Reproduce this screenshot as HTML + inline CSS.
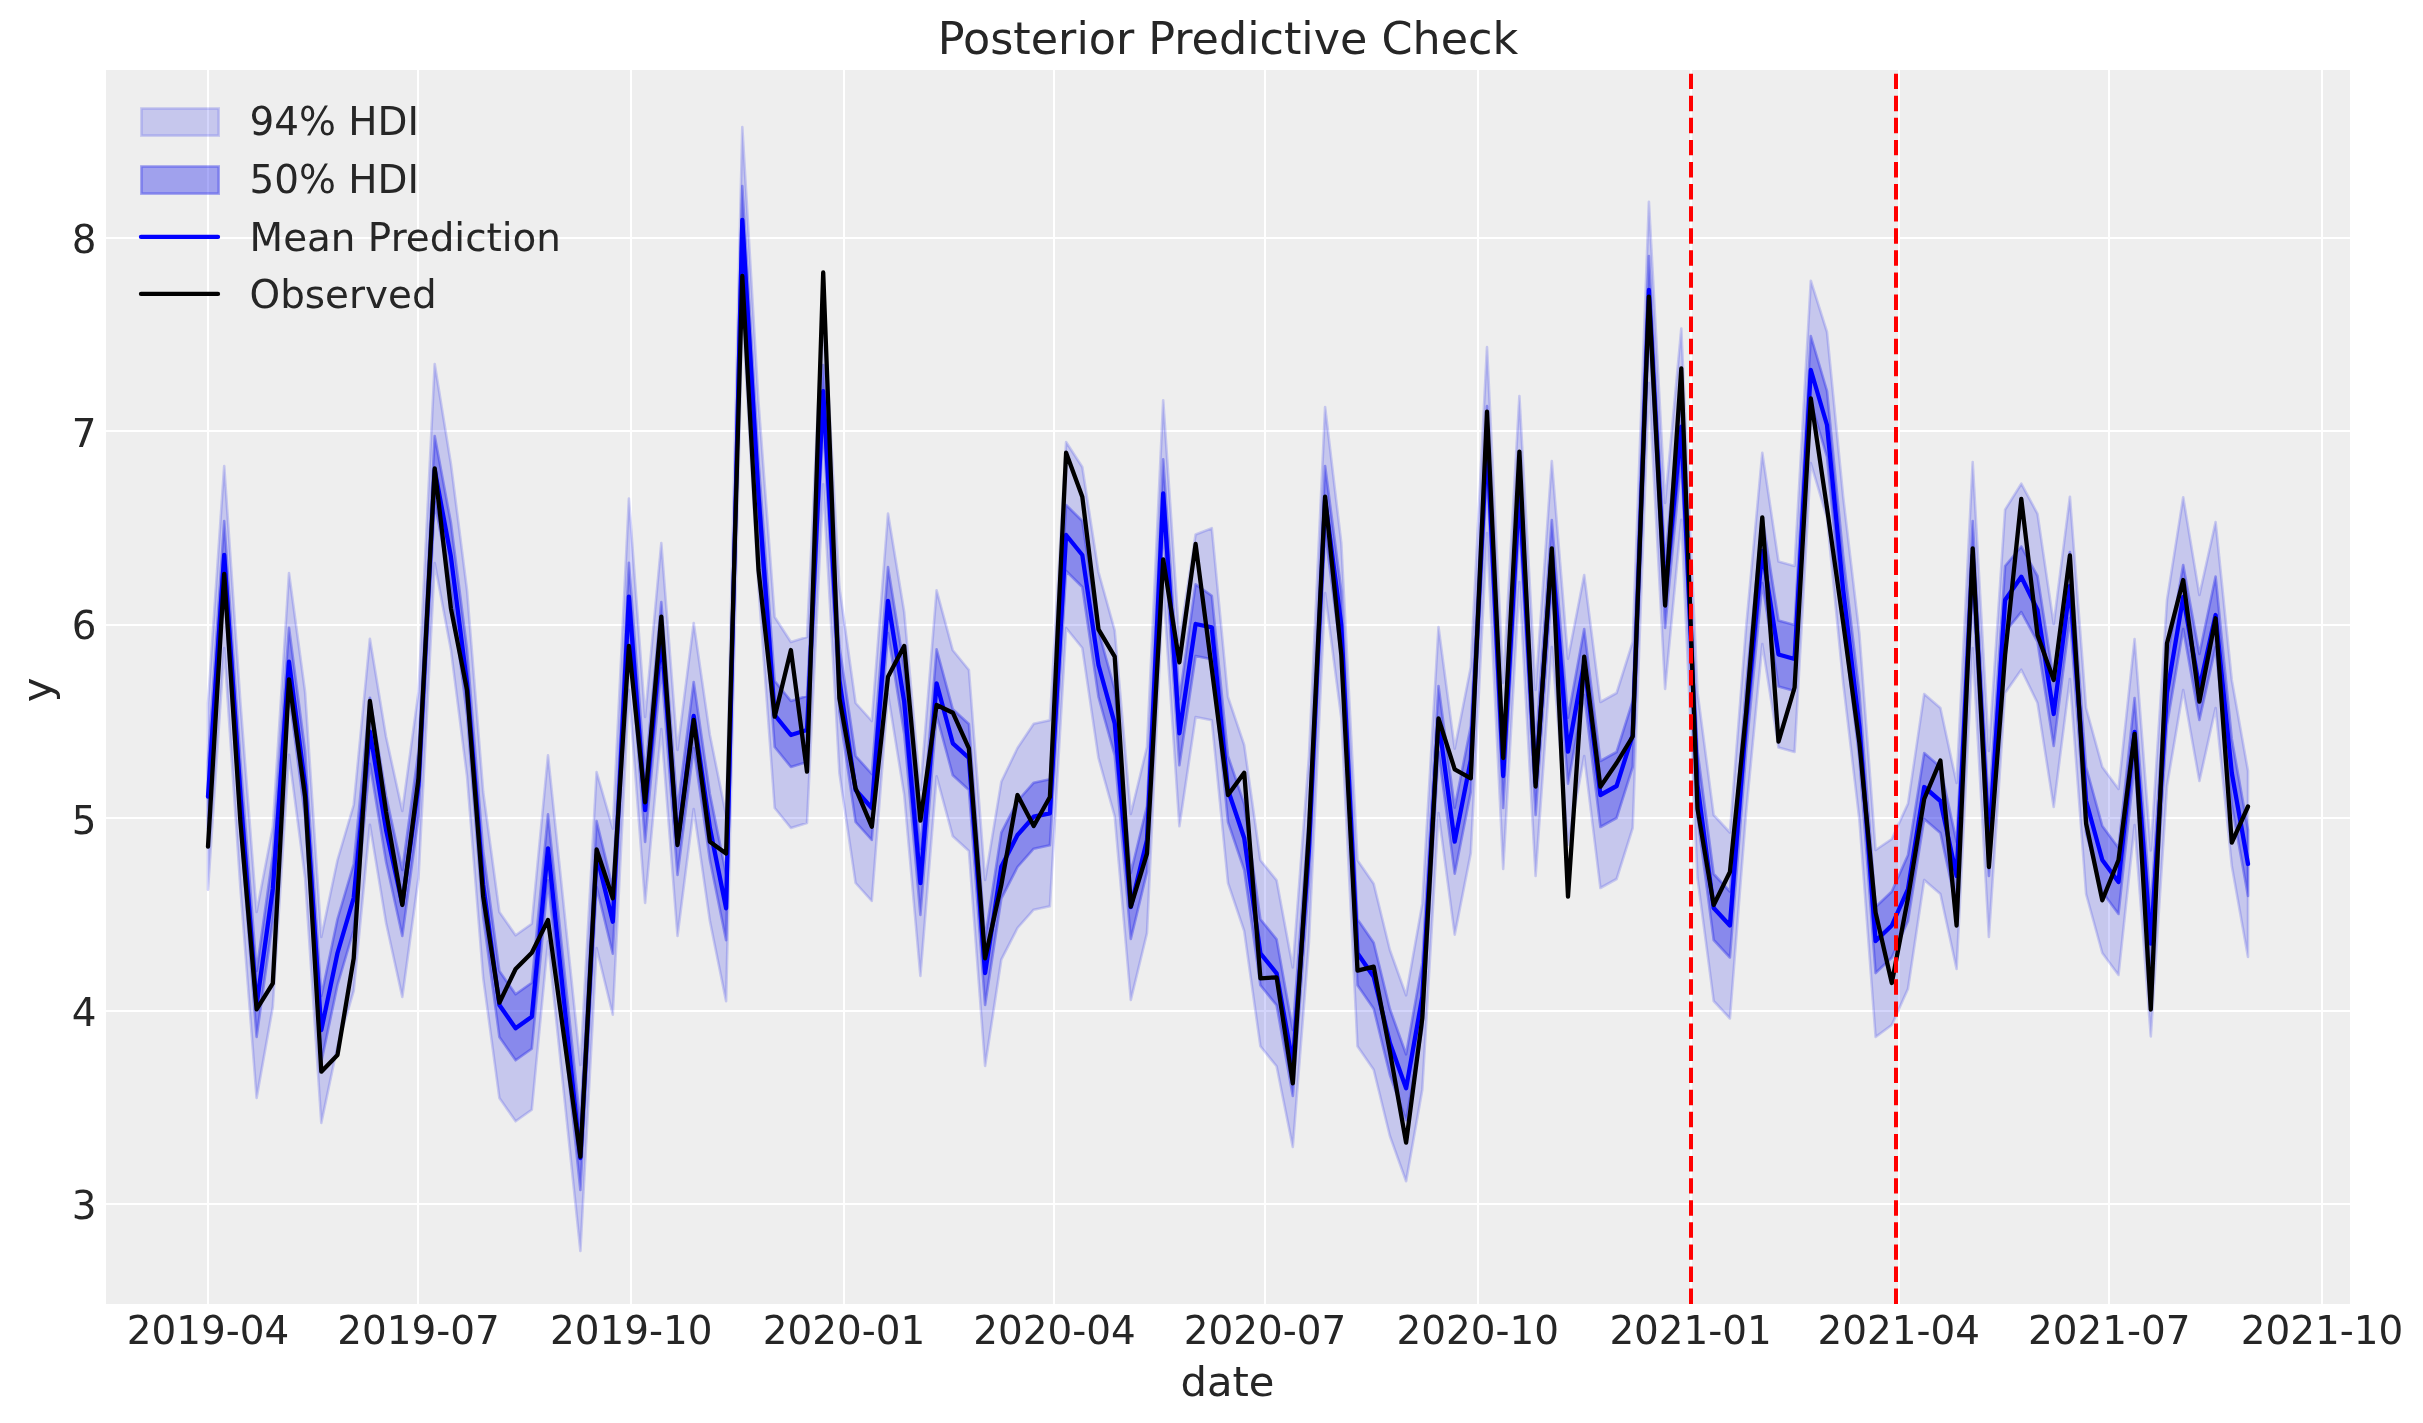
<!DOCTYPE html>
<html lang="en"><head><meta charset="utf-8"><title>Posterior Predictive Check</title>
<style>html,body{margin:0;padding:0;background:#fff}svg{display:block;will-change:transform}text{font-family:"DejaVu Sans", "Liberation Sans", sans-serif;fill:#262626}</style></head><body>
<svg width="2423" height="1423" viewBox="0 0 2423 1423">
<rect width="2423" height="1423" fill="#ffffff"/>
<rect x="106.0" y="70.0" width="2244.0" height="1234.0" fill="#eeeeee"/>
<defs><clipPath id="ax"><rect x="106.0" y="70.0" width="2244.0" height="1234.0"/></clipPath></defs>
<g fill="#ffffff" shape-rendering="crispEdges">
<rect x="207" y="70" width="2" height="1234"/>
<rect x="417" y="70" width="2" height="1234"/>
<rect x="630" y="70" width="2" height="1234"/>
<rect x="843" y="70" width="2" height="1234"/>
<rect x="1053" y="70" width="2" height="1234"/>
<rect x="1264" y="70" width="2" height="1234"/>
<rect x="1477" y="70" width="2" height="1234"/>
<rect x="1690" y="70" width="2" height="1234"/>
<rect x="1898" y="70" width="2" height="1234"/>
<rect x="2108" y="70" width="2" height="1234"/>
<rect x="2321" y="70" width="2" height="1234"/>
<rect x="106" y="237" width="2244" height="2"/>
<rect x="106" y="430" width="2244" height="2"/>
<rect x="106" y="624" width="2244" height="2"/>
<rect x="106" y="817" width="2244" height="2"/>
<rect x="106" y="1010" width="2244" height="2"/>
<rect x="106" y="1203" width="2244" height="2"/>
</g>
<g clip-path="url(#ax)" stroke-linejoin="round">
<polygon points="208.0,703.7 224.2,466.0 240.4,702.0 256.6,912.0 272.8,827.0 289.0,573.0 305.1,692.0 321.3,937.0 337.5,860.0 353.7,805.0 369.9,638.7 386.1,737.0 402.3,811.0 418.5,692.0 434.7,364.0 450.9,463.7 467.0,590.0 483.2,792.0 499.4,912.0 515.6,935.3 531.8,923.7 548.0,755.3 564.2,910.0 580.4,1065.0 596.6,772.0 612.8,828.7 628.9,498.5 645.1,717.0 661.3,543.0 677.5,750.0 693.7,623.0 709.9,735.0 726.1,815.3 742.3,127.0 758.5,402.0 774.7,617.0 790.9,642.0 807.0,637.0 823.2,298.2 839.4,587.0 855.6,703.0 871.8,721.0 888.0,513.5 904.2,612.0 920.4,790.0 936.6,590.3 952.8,650.3 968.9,670.0 985.1,880.0 1001.3,781.7 1017.5,748.0 1033.7,723.7 1049.9,720.3 1066.1,442.0 1082.3,467.0 1098.5,572.0 1114.7,630.3 1130.8,814.0 1147.0,747.0 1163.2,400.3 1179.4,640.3 1195.6,534.5 1211.8,528.2 1228.0,697.0 1244.2,745.0 1260.4,860.3 1276.6,880.3 1292.8,967.5 1308.9,757.0 1325.1,407.0 1341.3,543.0 1357.5,860.3 1373.7,883.7 1389.9,950.0 1406.1,995.3 1422.3,903.7 1438.5,627.0 1454.7,748.7 1470.8,667.0 1487.0,347.0 1503.2,683.0 1519.4,396.0 1535.6,690.0 1551.8,461.0 1568.0,658.7 1584.2,575.0 1600.4,702.0 1616.6,693.0 1632.7,642.0 1648.9,201.7 1665.1,503.0 1681.3,328.5 1697.5,692.0 1713.7,815.0 1729.9,832.5 1746.1,627.0 1762.3,452.7 1778.5,561.5 1794.6,566.0 1810.8,280.7 1827.0,332.0 1843.2,497.0 1859.4,634.0 1875.6,850.0 1891.8,839.0 1908.0,803.6 1924.2,694.0 1940.4,708.0 1956.6,783.0 1972.7,462.0 1988.9,751.0 2005.1,509.6 2021.3,483.7 2037.5,513.8 2053.7,624.0 2069.9,496.7 2086.1,708.0 2102.3,767.0 2118.5,789.0 2134.6,639.0 2150.8,850.5 2167.0,600.0 2183.2,497.3 2199.4,595.0 2215.6,522.0 2231.8,680.0 2248.0,771.0 2248.0,957.0 2231.8,866.0 2215.6,708.0 2199.4,781.0 2183.2,690.0 2167.0,786.0 2150.8,1036.5 2134.6,825.0 2118.5,975.0 2102.3,953.0 2086.1,894.0 2069.9,679.0 2053.7,807.0 2037.5,703.0 2021.3,669.7 2005.1,693.0 1988.9,937.0 1972.7,648.0 1956.6,969.0 1940.4,894.0 1924.2,880.0 1908.0,988.7 1891.8,1025.0 1875.6,1037.0 1859.4,820.0 1843.2,683.0 1827.0,518.0 1810.8,463.0 1794.6,752.0 1778.5,747.5 1762.3,644.0 1746.1,813.0 1729.9,1018.5 1713.7,1001.0 1697.5,878.0 1681.3,519.7 1665.1,689.0 1648.9,383.0 1632.7,828.0 1616.6,879.0 1600.4,888.0 1584.2,756.0 1568.0,844.7 1551.8,647.0 1535.6,876.0 1519.4,582.0 1503.2,869.0 1487.0,533.0 1470.8,853.0 1454.7,934.7 1438.5,813.0 1422.3,1089.7 1406.1,1181.3 1389.9,1136.0 1373.7,1069.7 1357.5,1046.3 1341.3,718.0 1325.1,593.0 1308.9,943.0 1292.8,1147.0 1276.6,1066.3 1260.4,1046.3 1244.2,931.0 1228.0,883.0 1211.8,720.3 1195.6,717.0 1179.4,826.3 1163.2,586.3 1147.0,933.0 1130.8,1000.0 1114.7,816.3 1098.5,758.0 1082.3,648.0 1066.1,628.0 1049.9,906.3 1033.7,909.7 1017.5,928.0 1001.3,959.7 985.1,1066.0 968.9,851.0 952.8,836.3 936.6,776.3 920.4,976.0 904.2,794.7 888.0,694.0 871.8,901.0 855.6,883.0 839.4,773.0 823.2,484.2 807.0,823.0 790.9,828.0 774.7,808.0 758.5,588.0 742.3,313.0 726.1,1001.3 709.9,921.0 693.7,809.0 677.5,936.0 661.3,729.0 645.1,903.0 628.9,689.7 612.8,1014.7 596.6,948.0 580.4,1251.0 564.2,1096.0 548.0,941.3 531.8,1109.7 515.6,1121.3 499.4,1098.0 483.2,978.0 467.0,776.0 450.9,649.7 434.7,563.0 418.5,878.0 402.3,997.0 386.1,923.0 369.9,824.7 353.7,991.0 337.5,1046.0 321.3,1123.0 305.1,878.0 289.0,754.7 272.8,1007.0 256.6,1098.0 240.4,888.0 224.2,648.0 208.0,889.7" fill="#2a2eec" fill-opacity="0.2" stroke="#2a2eec" stroke-opacity="0.2" stroke-width="2.6"/>
<polygon points="208.0,762.7 224.2,521.0 240.4,761.0 256.6,971.0 272.8,855.0 289.0,627.7 305.1,751.0 321.3,996.0 337.5,919.0 353.7,864.0 369.9,697.7 386.1,796.0 402.3,870.0 418.5,751.0 434.7,436.0 450.9,522.7 467.0,649.0 483.2,851.0 499.4,971.0 515.6,994.3 531.8,982.7 548.0,814.3 564.2,969.0 580.4,1124.0 596.6,821.0 612.8,887.7 628.9,562.7 645.1,776.0 661.3,602.0 677.5,809.0 693.7,682.0 709.9,794.0 726.1,874.3 742.3,186.0 758.5,461.0 774.7,681.0 790.9,701.0 807.0,696.0 823.2,365.0 839.4,646.0 855.6,756.0 871.8,774.0 888.0,567.0 904.2,667.7 920.4,849.0 936.6,649.3 952.8,709.3 968.9,724.0 985.1,939.0 1001.3,832.7 1017.5,801.0 1033.7,782.7 1049.9,779.3 1066.1,505.0 1082.3,521.0 1098.5,631.0 1114.7,689.3 1130.8,873.0 1147.0,806.0 1163.2,459.3 1179.4,699.3 1195.6,584.4 1211.8,595.7 1228.0,756.0 1244.2,804.0 1260.4,919.3 1276.6,939.3 1292.8,1030.0 1308.9,816.0 1325.1,466.0 1341.3,591.0 1357.5,919.3 1373.7,942.7 1389.9,1009.0 1406.1,1054.3 1422.3,962.7 1438.5,686.0 1454.7,807.7 1470.8,726.0 1487.0,406.0 1503.2,742.0 1519.4,455.0 1535.6,749.0 1551.8,520.0 1568.0,717.7 1584.2,629.0 1600.4,761.0 1616.6,752.0 1632.7,701.0 1648.9,256.0 1665.1,562.0 1681.3,392.7 1697.5,751.0 1713.7,874.0 1729.9,891.5 1746.1,686.0 1762.3,517.0 1778.5,620.5 1794.6,625.0 1810.8,336.0 1827.0,391.0 1843.2,556.0 1859.4,693.0 1875.6,907.0 1891.8,891.5 1908.0,855.0 1924.2,753.0 1940.4,767.0 1956.6,842.0 1972.7,521.0 1988.9,810.0 2005.1,566.0 2021.3,546.5 2037.5,576.0 2053.7,680.0 2069.9,552.0 2086.1,767.0 2102.3,826.0 2118.5,848.0 2134.6,698.0 2150.8,909.5 2167.0,659.0 2183.2,565.0 2199.4,654.0 2215.6,576.5 2231.8,739.0 2248.0,830.0 2248.0,896.0 2231.8,805.0 2215.6,647.0 2199.4,720.0 2183.2,629.0 2167.0,725.0 2150.8,975.5 2134.6,764.0 2118.5,914.0 2102.3,892.0 2086.1,833.0 2069.9,618.0 2053.7,746.0 2037.5,642.0 2021.3,612.0 2005.1,632.0 1988.9,876.0 1972.7,587.0 1956.6,908.0 1940.4,833.0 1924.2,819.0 1908.0,921.0 1891.8,957.5 1875.6,973.0 1859.4,759.0 1843.2,622.0 1827.0,457.0 1810.8,402.0 1794.6,691.0 1778.5,686.5 1762.3,583.0 1746.1,752.0 1729.9,957.5 1713.7,940.0 1697.5,817.0 1681.3,458.7 1665.1,628.0 1648.9,322.0 1632.7,767.0 1616.6,818.0 1600.4,827.0 1584.2,695.0 1568.0,783.7 1551.8,586.0 1535.6,815.0 1519.4,521.0 1503.2,808.0 1487.0,472.0 1470.8,792.0 1454.7,873.7 1438.5,752.0 1422.3,1028.7 1406.1,1120.3 1389.9,1075.0 1373.7,1008.7 1357.5,985.3 1341.3,657.0 1325.1,532.0 1308.9,882.0 1292.8,1096.0 1276.6,1005.3 1260.4,985.3 1244.2,870.0 1228.0,822.0 1211.8,659.3 1195.6,656.0 1179.4,765.3 1163.2,525.3 1147.0,872.0 1130.8,939.0 1114.7,755.3 1098.5,697.0 1082.3,587.0 1066.1,571.0 1049.9,845.3 1033.7,848.7 1017.5,867.0 1001.3,898.7 985.1,1005.0 968.9,790.0 952.8,775.3 936.6,715.3 920.4,915.0 904.2,733.7 888.0,633.0 871.8,840.0 855.6,822.0 839.4,712.0 823.2,423.2 807.0,762.0 790.9,767.0 774.7,747.0 758.5,527.0 742.3,252.0 726.1,940.3 709.9,860.0 693.7,748.0 677.5,875.0 661.3,668.0 645.1,842.0 628.9,628.7 612.8,953.7 596.6,887.0 580.4,1190.0 564.2,1035.0 548.0,880.3 531.8,1048.7 515.6,1060.3 499.4,1037.0 483.2,917.0 467.0,715.0 450.9,588.7 434.7,502.0 418.5,817.0 402.3,936.0 386.1,862.0 369.9,763.7 353.7,930.0 337.5,985.0 321.3,1062.0 305.1,817.0 289.0,693.7 272.8,921.0 256.6,1037.0 240.4,827.0 224.2,587.0 208.0,828.7" fill="#2a2eec" fill-opacity="0.4" stroke="#2a2eec" stroke-opacity="0.4" stroke-width="2.6"/>
<polyline points="208.0,796.7 224.2,555.0 240.4,795.0 256.6,1005.0 272.8,889.0 289.0,661.7 305.1,785.0 321.3,1030.0 337.5,953.0 353.7,898.0 369.9,731.7 386.1,830.0 402.3,904.0 418.5,785.0 434.7,470.0 450.9,556.7 467.0,683.0 483.2,885.0 499.4,1005.0 515.6,1028.3 531.8,1016.7 548.0,848.3 564.2,1003.0 580.4,1158.0 596.6,855.0 612.8,921.7 628.9,596.7 645.1,810.0 661.3,636.0 677.5,843.0 693.7,716.0 709.9,828.0 726.1,908.3 742.3,220.0 758.5,495.0 774.7,715.0 790.9,735.0 807.0,730.0 823.2,391.2 839.4,680.0 855.6,790.0 871.8,808.0 888.0,601.0 904.2,701.7 920.4,883.0 936.6,683.3 952.8,743.3 968.9,758.0 985.1,973.0 1001.3,866.7 1017.5,835.0 1033.7,816.7 1049.9,813.3 1066.1,535.0 1082.3,555.0 1098.5,665.0 1114.7,723.3 1130.8,907.0 1147.0,840.0 1163.2,493.3 1179.4,733.3 1195.6,624.0 1211.8,627.3 1228.0,790.0 1244.2,838.0 1260.4,953.3 1276.6,973.3 1292.8,1064.0 1308.9,850.0 1325.1,500.0 1341.3,625.0 1357.5,953.3 1373.7,976.7 1389.9,1043.0 1406.1,1088.3 1422.3,996.7 1438.5,720.0 1454.7,841.7 1470.8,760.0 1487.0,440.0 1503.2,776.0 1519.4,489.0 1535.6,783.0 1551.8,554.0 1568.0,751.7 1584.2,663.0 1600.4,795.0 1616.6,786.0 1632.7,735.0 1648.9,290.0 1665.1,596.0 1681.3,426.7 1697.5,785.0 1713.7,908.0 1729.9,925.5 1746.1,720.0 1762.3,551.0 1778.5,654.5 1794.6,659.0 1810.8,370.0 1827.0,425.0 1843.2,590.0 1859.4,727.0 1875.6,941.0 1891.8,925.5 1908.0,889.0 1924.2,787.0 1940.4,801.0 1956.6,876.0 1972.7,555.0 1988.9,844.0 2005.1,600.0 2021.3,576.7 2037.5,610.0 2053.7,714.0 2069.9,586.0 2086.1,801.0 2102.3,860.0 2118.5,882.0 2134.6,732.0 2150.8,943.5 2167.0,693.0 2183.2,597.0 2199.4,688.0 2215.6,615.0 2231.8,773.0 2248.0,864.0" fill="none" stroke="#0000ff" stroke-width="4.3" stroke-linecap="round"/>
<polyline points="208.0,846.7 224.2,574.0 240.4,822.0 256.6,1009.3 272.8,983.3 289.0,679.3 305.1,796.7 321.3,1071.7 337.5,1055.0 353.7,958.3 369.9,701.0 386.1,812.0 402.3,905.0 418.5,778.3 434.7,468.3 450.9,608.3 467.0,690.0 483.2,896.7 499.4,1002.7 515.6,969.0 531.8,952.7 548.0,920.0 564.2,1038.0 580.4,1156.7 596.6,849.5 612.8,898.3 628.9,646.0 645.1,802.3 661.3,616.7 677.5,845.0 693.7,720.0 709.9,841.7 726.1,853.5 742.3,276.0 758.5,570.0 774.7,716.7 790.9,650.0 807.0,771.7 823.2,272.5 839.4,698.3 855.6,788.3 871.8,826.7 888.0,676.7 904.2,646.0 920.4,820.7 936.6,705.0 952.8,712.7 968.9,748.3 985.1,958.3 1001.3,885.0 1017.5,795.0 1033.7,826.0 1049.9,797.0 1066.1,452.7 1082.3,496.7 1098.5,629.3 1114.7,656.7 1130.8,906.7 1147.0,853.5 1163.2,559.3 1179.4,662.3 1195.6,544.0 1211.8,669.0 1228.0,795.0 1244.2,772.7 1260.4,978.3 1276.6,977.3 1292.8,1083.3 1308.9,832.0 1325.1,496.7 1341.3,655.0 1357.5,970.7 1373.7,966.7 1389.9,1051.7 1406.1,1142.7 1422.3,1018.3 1438.5,718.3 1454.7,769.3 1470.8,778.3 1487.0,411.7 1503.2,758.0 1519.4,451.7 1535.6,786.5 1551.8,548.3 1568.0,896.7 1584.2,656.7 1600.4,786.7 1616.6,763.0 1632.7,736.5 1648.9,296.7 1665.1,605.5 1681.3,368.3 1697.5,809.0 1713.7,905.0 1729.9,872.0 1746.1,713.0 1762.3,517.3 1778.5,741.7 1794.6,687.5 1810.8,398.3 1827.0,508.0 1843.2,623.0 1859.4,743.0 1875.6,912.5 1891.8,983.0 1908.0,898.0 1924.2,799.0 1940.4,760.5 1956.6,925.5 1972.7,548.3 1988.9,867.0 2005.1,655.0 2021.3,499.0 2037.5,635.0 2053.7,680.0 2069.9,555.5 2086.1,823.5 2102.3,900.3 2118.5,860.0 2134.6,734.0 2150.8,1009.5 2167.0,643.3 2183.2,580.0 2199.4,701.7 2215.6,618.3 2231.8,842.6 2248.0,806.5" fill="none" stroke="#000000" stroke-width="4.3" stroke-linecap="round"/>
<line x1="1691" y1="1304.0" x2="1691" y2="70.0" stroke="#ff0000" stroke-width="4" stroke-dasharray="15.42 6.67"/>
<line x1="1896" y1="1304.0" x2="1896" y2="70.0" stroke="#ff0000" stroke-width="4" stroke-dasharray="15.42 6.67"/>
</g>
<rect x="141.4" y="108.5" width="77.3" height="27.1" fill="#2a2eec" fill-opacity="0.2" stroke="#2a2eec" stroke-opacity="0.2" stroke-width="2.6"/>
<rect x="141.4" y="166.5" width="77.3" height="27.1" fill="#2a2eec" fill-opacity="0.4" stroke="#2a2eec" stroke-opacity="0.4" stroke-width="2.6"/>
<line x1="141" y1="236.9" x2="218" y2="236.9" stroke="#0000ff" stroke-width="4.3" stroke-linecap="round"/>
<line x1="141" y1="293.9" x2="218" y2="293.9" stroke="#000000" stroke-width="4.3" stroke-linecap="round"/>
<text x="249.6" y="134.8" font-size="38.89">94% HDI</text>
<text x="249.6" y="192.9" font-size="38.89">50% HDI</text>
<text x="249.6" y="250.8" font-size="38.89">Mean Prediction</text>
<text x="249.6" y="308.2" font-size="38.89">Observed</text>
<text x="1228" y="53.8" font-size="44.44" text-anchor="middle">Posterior Predictive Check</text>
<text x="1227.5" y="1395.6" font-size="41.67" text-anchor="middle">date</text>
<text transform="translate(50.7 690) rotate(-90)" font-size="41.67" text-anchor="middle">y</text>
<text x="208.0" y="1344.1" font-size="38.89" text-anchor="middle">2019-04</text>
<text x="418.5" y="1344.1" font-size="38.89" text-anchor="middle">2019-07</text>
<text x="631.3" y="1344.1" font-size="38.89" text-anchor="middle">2019-10</text>
<text x="844.0" y="1344.1" font-size="38.89" text-anchor="middle">2020-01</text>
<text x="1054.5" y="1344.1" font-size="38.89" text-anchor="middle">2020-04</text>
<text x="1265.0" y="1344.1" font-size="38.89" text-anchor="middle">2020-07</text>
<text x="1477.8" y="1344.1" font-size="38.89" text-anchor="middle">2020-10</text>
<text x="1690.6" y="1344.1" font-size="38.89" text-anchor="middle">2021-01</text>
<text x="1898.7" y="1344.1" font-size="38.89" text-anchor="middle">2021-04</text>
<text x="2109.2" y="1344.1" font-size="38.89" text-anchor="middle">2021-07</text>
<text x="2322.0" y="1344.1" font-size="38.89" text-anchor="middle">2021-10</text>
<text x="96.4" y="253.2" font-size="38.89" text-anchor="end">8</text>
<text x="96.4" y="447.0" font-size="38.89" text-anchor="end">7</text>
<text x="96.4" y="639.1" font-size="38.89" text-anchor="end">6</text>
<text x="96.4" y="833.8" font-size="38.89" text-anchor="end">5</text>
<text x="96.4" y="1025.9" font-size="38.89" text-anchor="end">4</text>
<text x="96.4" y="1218.8" font-size="38.89" text-anchor="end">3</text>
</svg></body></html>
